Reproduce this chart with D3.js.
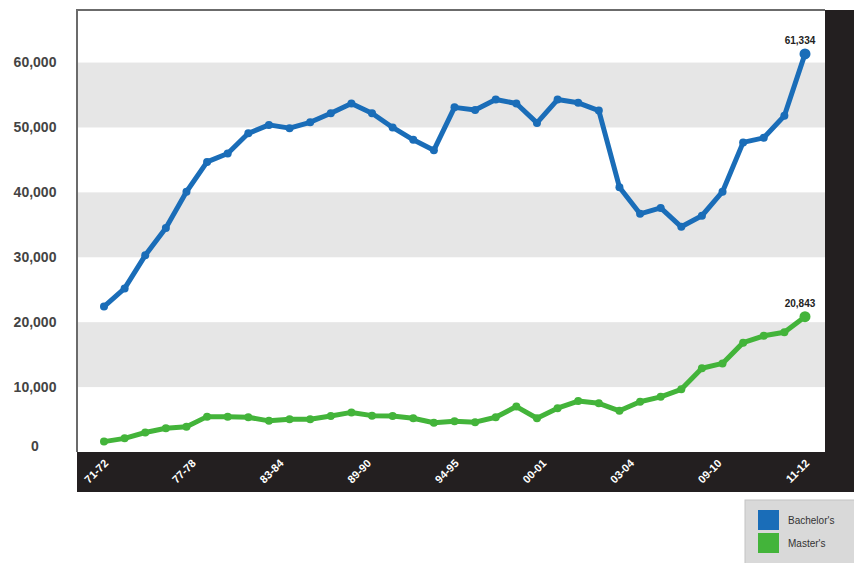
<!DOCTYPE html>
<html>
<head>
<meta charset="utf-8">
<script src="https://d3js.org/d3.v7.min.js"></script>
<style>
body { margin: 0; background: #fff; }
#chart text { font-family: "Liberation Sans", Arial, sans-serif; }
</style>
</head>
<body>
<div id="chart"></div>
<script>
// values (one point per plotted year)
var bachelors = [22400, 25200, 30300, 34500, 40100, 44700, 46000, 49100, 50400, 49900,
    50800, 52200, 53700, 52200, 50000, 48100, 46500, 53100, 52700, 54300,
    53700, 50700, 54300, 53800, 52600, 40800, 36700, 37600, 34700, 36400,
    40100, 47700, 48400, 51800, 61334];
var masters = [1600, 2100, 3000, 3650, 3900, 5450, 5450, 5350, 4800, 5050,
    5050, 5550, 6100, 5600, 5550, 5200, 4500, 4750, 4600, 5350,
    7000, 5200, 6750, 7850, 7500, 6350, 7750, 8500, 9650, 12900,
    13650, 16850, 17900, 18450, 20843];
var tickLabels = ["71-72", "77-78", "83-84", "89-90", "94-95", "00-01", "03-04", "09-10", "11-12"];
var yTicks = [0, 10000, 20000, 30000, 40000, 50000, 60000];
var seriesNames = ["Bachelor's", "Master's"];

var colors = ["#1a6db8", "#43b43a"];

var margin = {top: 10, right: 29, bottom: 111, left: 77},
    width = 854 - margin.left - margin.right,
    height = 563 - margin.top - margin.bottom;

var svg = d3.select("#chart").append("svg")
    .attr("width", 854)
    .attr("height", 563);

var chart = svg.append("g")
    .attr("transform", `translate(${margin.left}, ${margin.top})`);

// scales
var x = d3.scaleLinear()
    .domain([0, bachelors.length - 1])
    .range([27, width - 20]);

var y = d3.scaleLinear()
    .domain([0, 68100])
    .range([height, 0]);

// grey bands every other 10,000
var bands = yTicks.filter(function (d, i) { return i % 2 === 1; });
chart.selectAll(".band")
    .data(bands)
    .enter().append("rect")
    .attr("class", "band")
    .attr("x", 0)
    .attr("width", width)
    .attr("y", function (d) { return y(d + 10000); })
    .attr("height", function (d) { return y(d) - y(d + 10000); })
    .attr("fill", "#e6e6e6");

// dark strips bottom and right
chart.append("rect")
    .attr("x", 0)
    .attr("y", height)
    .attr("width", 854 - margin.left)
    .attr("height", 40)
    .attr("fill", "#231f20");
chart.append("rect")
    .attr("x", width)
    .attr("y", 0)
    .attr("width", margin.right)
    .attr("height", height + 40)
    .attr("fill", "#231f20");

// frame
chart.append("path")
    .attr("d", `M0,${height}V0H${width}`)
    .attr("fill", "none")
    .attr("stroke", "#6b6b6b")
    .attr("stroke-width", 2);

// y labels
chart.selectAll(".ylab")
    .data(yTicks)
    .enter().append("text")
    .attr("class", "ylab")
    .attr("x", 35 - margin.left)
    .attr("y", function (d) { return Math.min(y(d), height - 6); })
    .attr("dy", "0.35em")
    .attr("text-anchor", "middle")
    .attr("font-size", 14)
    .attr("font-weight", "bold")
    .attr("fill", "#444")
    .text(function (d) { return d3.format(",")(d); });

// x labels, spread evenly along the series
var step = (bachelors.length - 1) / (tickLabels.length - 1);
chart.selectAll(".xlab")
    .data(tickLabels)
    .enter().append("text")
    .attr("class", "xlab")
    .attr("transform", function (d, i) {
        return `translate(${x(i * step) + 5}, ${height + 12}) rotate(-45)`;
    })
    .attr("text-anchor", "end")
    .attr("font-size", 11)
    .attr("font-weight", "bold")
    .attr("fill", "#fff")
    .text(function (d) { return d; });

// lines and points
var line = d3.line()
    .x(function (d, i) { return x(i); })
    .y(function (d) { return y(d); });

[bachelors, masters].forEach(function (series, k) {
    chart.append("path")
        .datum(series)
        .attr("d", line)
        .attr("fill", "none")
        .attr("stroke", colors[k])
        .attr("stroke-width", 5)
        .attr("stroke-linejoin", "round");

    chart.selectAll(".pt" + k)
        .data(series)
        .enter().append("circle")
        .attr("class", "pt" + k)
        .attr("cx", function (d, i) { return x(i); })
        .attr("cy", function (d) { return y(d); })
        .attr("r", function (d, i) { return i === series.length - 1 ? 5.5 : 4; })
        .attr("fill", colors[k]);

    var last = series.length - 1;
    chart.append("text")
        .attr("x", x(last) - 5)
        .attr("y", y(series[last]) - 10)
        .attr("text-anchor", "middle")
        .attr("font-size", 10)
        .attr("font-weight", "bold")
        .attr("fill", "#222")
        .text(d3.format(",")(series[last]));
});

// legend
var legend = svg.append("g")
    .attr("transform", "translate(745, 500)");
legend.append("rect")
    .attr("width", 110)
    .attr("height", 64)
    .attr("fill", "#d9d9d9")
    .attr("stroke", "#c4c4c4");
var items = legend.selectAll(".item")
    .data(seriesNames)
    .enter().append("g")
    .attr("class", "item")
    .attr("transform", function (d, i) { return `translate(13, ${10 + i * 23})`; });
items.append("rect")
    .attr("width", 21)
    .attr("height", 20)
    .attr("fill", function (d, i) { return colors[i]; });
items.append("text")
    .attr("x", 30)
    .attr("y", 10)
    .attr("dy", "0.35em")
    .attr("font-size", 10)
    .attr("fill", "#333")
    .text(function (d) { return d; });
</script>
</body>
</html>
